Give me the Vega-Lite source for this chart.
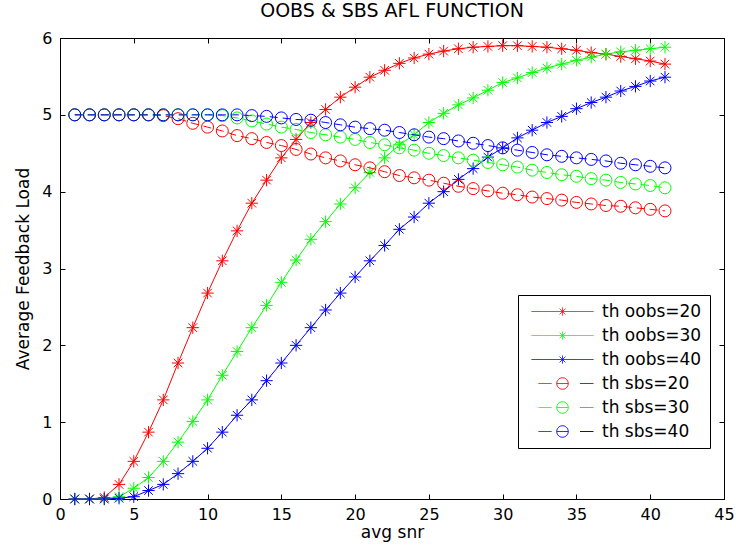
{
"$schema":"https://vega.github.io/schema/vega-lite/v6.json",
"width":664,"height":461,
"autosize":{"type":"none"},
"padding":{"left":60,"top":38,"right":12,"bottom":50},
"background":"white",
"title":{"text":"OOBS & SBS AFL FUNCTION","fontSize":19,"fontWeight":"normal","font":"DejaVu Sans","color":"black","offset":9,"anchor":"middle"},
"config":{
"view":{"stroke":"black","strokeWidth":1},
"axis":{"domainColor":"black","tickColor":"black","labelColor":"black","titleColor":"black","labelFont":"DejaVu Sans","titleFont":"DejaVu Sans","labelFontSize":16,"titleFontSize":17,"titleFontWeight":"normal","grid":false,"tickSize":-5,"domainWidth":1,"tickWidth":1,"labelFlush":false,"labelOverlap":false},
"legend":{"orient":"none","legendX":458,"legendY":257,"title":null,"strokeColor":"black","fillColor":"white","padding":8,"rowPadding":6,"labelFont":"DejaVu Sans","labelFontSize":17,"labelColor":"black","labelOffset":57,"symbolSize":100,"symbolStrokeWidth":1,"symbolOffset":2}
},
"data":{"values":[
{"x":1,"s":"th oobs=20","y":0},{"x":2,"s":"th oobs=20","y":0},{"x":3,"s":"th oobs=20","y":0.02},{"x":4,"s":"th oobs=20","y":0.19},{"x":5,"s":"th oobs=20","y":0.49},{"x":6,"s":"th oobs=20","y":0.87},{"x":7,"s":"th oobs=20","y":1.29},{"x":8,"s":"th oobs=20","y":1.77},{"x":9,"s":"th oobs=20","y":2.23},{"x":10,"s":"th oobs=20","y":2.68},{"x":11,"s":"th oobs=20","y":3.1},{"x":12,"s":"th oobs=20","y":3.49},{"x":13,"s":"th oobs=20","y":3.85},{"x":14,"s":"th oobs=20","y":4.15},{"x":15,"s":"th oobs=20","y":4.44},{"x":16,"s":"th oobs=20","y":4.68},{"x":17,"s":"th oobs=20","y":4.9},{"x":18,"s":"th oobs=20","y":5.07},{"x":19,"s":"th oobs=20","y":5.23},{"x":20,"s":"th oobs=20","y":5.36},{"x":21,"s":"th oobs=20","y":5.49},{"x":22,"s":"th oobs=20","y":5.58},{"x":23,"s":"th oobs=20","y":5.67},{"x":24,"s":"th oobs=20","y":5.74},{"x":25,"s":"th oobs=20","y":5.79},{"x":26,"s":"th oobs=20","y":5.83},{"x":27,"s":"th oobs=20","y":5.86},{"x":28,"s":"th oobs=20","y":5.88},{"x":29,"s":"th oobs=20","y":5.89},{"x":30,"s":"th oobs=20","y":5.9},{"x":31,"s":"th oobs=20","y":5.9},{"x":32,"s":"th oobs=20","y":5.89},{"x":33,"s":"th oobs=20","y":5.88},{"x":34,"s":"th oobs=20","y":5.86},{"x":35,"s":"th oobs=20","y":5.84},{"x":36,"s":"th oobs=20","y":5.81},{"x":37,"s":"th oobs=20","y":5.79},{"x":38,"s":"th oobs=20","y":5.76},{"x":39,"s":"th oobs=20","y":5.73},{"x":40,"s":"th oobs=20","y":5.7},{"x":41,"s":"th oobs=20","y":5.66},
{"x":1,"s":"th oobs=30","y":0},{"x":2,"s":"th oobs=30","y":0},{"x":3,"s":"th oobs=30","y":0},{"x":4,"s":"th oobs=30","y":0.03},{"x":5,"s":"th oobs=30","y":0.14},{"x":6,"s":"th oobs=30","y":0.28},{"x":7,"s":"th oobs=30","y":0.49},{"x":8,"s":"th oobs=30","y":0.74},{"x":9,"s":"th oobs=30","y":1.01},{"x":10,"s":"th oobs=30","y":1.29},{"x":11,"s":"th oobs=30","y":1.61},{"x":12,"s":"th oobs=30","y":1.92},{"x":13,"s":"th oobs=30","y":2.23},{"x":14,"s":"th oobs=30","y":2.52},{"x":15,"s":"th oobs=30","y":2.82},{"x":16,"s":"th oobs=30","y":3.11},{"x":17,"s":"th oobs=30","y":3.38},{"x":18,"s":"th oobs=30","y":3.61},{"x":19,"s":"th oobs=30","y":3.84},{"x":20,"s":"th oobs=30","y":4.05},{"x":21,"s":"th oobs=30","y":4.25},{"x":22,"s":"th oobs=30","y":4.44},{"x":23,"s":"th oobs=30","y":4.61},{"x":24,"s":"th oobs=30","y":4.74},{"x":25,"s":"th oobs=30","y":4.9},{"x":26,"s":"th oobs=30","y":5.02},{"x":27,"s":"th oobs=30","y":5.13},{"x":28,"s":"th oobs=30","y":5.22},{"x":29,"s":"th oobs=30","y":5.32},{"x":30,"s":"th oobs=30","y":5.42},{"x":31,"s":"th oobs=30","y":5.48},{"x":32,"s":"th oobs=30","y":5.55},{"x":33,"s":"th oobs=30","y":5.61},{"x":34,"s":"th oobs=30","y":5.66},{"x":35,"s":"th oobs=30","y":5.71},{"x":36,"s":"th oobs=30","y":5.75},{"x":37,"s":"th oobs=30","y":5.79},{"x":38,"s":"th oobs=30","y":5.82},{"x":39,"s":"th oobs=30","y":5.84},{"x":40,"s":"th oobs=30","y":5.86},{"x":41,"s":"th oobs=30","y":5.88},
{"x":1,"s":"th oobs=40","y":0},{"x":2,"s":"th oobs=40","y":0},{"x":3,"s":"th oobs=40","y":0},{"x":4,"s":"th oobs=40","y":0.01},{"x":5,"s":"th oobs=40","y":0.03},{"x":6,"s":"th oobs=40","y":0.11},{"x":7,"s":"th oobs=40","y":0.19},{"x":8,"s":"th oobs=40","y":0.33},{"x":9,"s":"th oobs=40","y":0.49},{"x":10,"s":"th oobs=40","y":0.66},{"x":11,"s":"th oobs=40","y":0.87},{"x":12,"s":"th oobs=40","y":1.09},{"x":13,"s":"th oobs=40","y":1.29},{"x":14,"s":"th oobs=40","y":1.54},{"x":15,"s":"th oobs=40","y":1.77},{"x":16,"s":"th oobs=40","y":2.0},{"x":17,"s":"th oobs=40","y":2.23},{"x":18,"s":"th oobs=40","y":2.46},{"x":19,"s":"th oobs=40","y":2.68},{"x":20,"s":"th oobs=40","y":2.89},{"x":21,"s":"th oobs=40","y":3.1},{"x":22,"s":"th oobs=40","y":3.3},{"x":23,"s":"th oobs=40","y":3.51},{"x":24,"s":"th oobs=40","y":3.67},{"x":25,"s":"th oobs=40","y":3.85},{"x":26,"s":"th oobs=40","y":4.0},{"x":27,"s":"th oobs=40","y":4.16},{"x":28,"s":"th oobs=40","y":4.3},{"x":29,"s":"th oobs=40","y":4.45},{"x":30,"s":"th oobs=40","y":4.57},{"x":31,"s":"th oobs=40","y":4.7},{"x":32,"s":"th oobs=40","y":4.8},{"x":33,"s":"th oobs=40","y":4.9},{"x":34,"s":"th oobs=40","y":4.98},{"x":35,"s":"th oobs=40","y":5.08},{"x":36,"s":"th oobs=40","y":5.16},{"x":37,"s":"th oobs=40","y":5.23},{"x":38,"s":"th oobs=40","y":5.31},{"x":39,"s":"th oobs=40","y":5.37},{"x":40,"s":"th oobs=40","y":5.44},{"x":41,"s":"th oobs=40","y":5.49},
{"x":1,"s":"th sbs=20","y":5.0},{"x":2,"s":"th sbs=20","y":5.0},{"x":3,"s":"th sbs=20","y":5.0},{"x":4,"s":"th sbs=20","y":5.0},{"x":5,"s":"th sbs=20","y":5.0},{"x":6,"s":"th sbs=20","y":5.0},{"x":7,"s":"th sbs=20","y":4.99},{"x":8,"s":"th sbs=20","y":4.95},{"x":9,"s":"th sbs=20","y":4.89},{"x":10,"s":"th sbs=20","y":4.84},{"x":11,"s":"th sbs=20","y":4.79},{"x":12,"s":"th sbs=20","y":4.73},{"x":13,"s":"th sbs=20","y":4.69},{"x":14,"s":"th sbs=20","y":4.64},{"x":15,"s":"th sbs=20","y":4.6},{"x":16,"s":"th sbs=20","y":4.55},{"x":17,"s":"th sbs=20","y":4.49},{"x":18,"s":"th sbs=20","y":4.44},{"x":19,"s":"th sbs=20","y":4.4},{"x":20,"s":"th sbs=20","y":4.35},{"x":21,"s":"th sbs=20","y":4.31},{"x":22,"s":"th sbs=20","y":4.26},{"x":23,"s":"th sbs=20","y":4.21},{"x":24,"s":"th sbs=20","y":4.18},{"x":25,"s":"th sbs=20","y":4.15},{"x":26,"s":"th sbs=20","y":4.11},{"x":27,"s":"th sbs=20","y":4.07},{"x":28,"s":"th sbs=20","y":4.04},{"x":29,"s":"th sbs=20","y":4.01},{"x":30,"s":"th sbs=20","y":3.98},{"x":31,"s":"th sbs=20","y":3.96},{"x":32,"s":"th sbs=20","y":3.93},{"x":33,"s":"th sbs=20","y":3.91},{"x":34,"s":"th sbs=20","y":3.89},{"x":35,"s":"th sbs=20","y":3.86},{"x":36,"s":"th sbs=20","y":3.84},{"x":37,"s":"th sbs=20","y":3.82},{"x":38,"s":"th sbs=20","y":3.81},{"x":39,"s":"th sbs=20","y":3.79},{"x":40,"s":"th sbs=20","y":3.77},{"x":41,"s":"th sbs=20","y":3.75},
{"x":1,"s":"th sbs=30","y":5.0},{"x":2,"s":"th sbs=30","y":5.0},{"x":3,"s":"th sbs=30","y":5.0},{"x":4,"s":"th sbs=30","y":5.0},{"x":5,"s":"th sbs=30","y":5.0},{"x":6,"s":"th sbs=30","y":5.0},{"x":7,"s":"th sbs=30","y":5.0},{"x":8,"s":"th sbs=30","y":5.0},{"x":9,"s":"th sbs=30","y":5.0},{"x":10,"s":"th sbs=30","y":5.0},{"x":11,"s":"th sbs=30","y":4.99},{"x":12,"s":"th sbs=30","y":4.96},{"x":13,"s":"th sbs=30","y":4.92},{"x":14,"s":"th sbs=30","y":4.88},{"x":15,"s":"th sbs=30","y":4.84},{"x":16,"s":"th sbs=30","y":4.81},{"x":17,"s":"th sbs=30","y":4.77},{"x":18,"s":"th sbs=30","y":4.74},{"x":19,"s":"th sbs=30","y":4.71},{"x":20,"s":"th sbs=30","y":4.68},{"x":21,"s":"th sbs=30","y":4.64},{"x":22,"s":"th sbs=30","y":4.61},{"x":23,"s":"th sbs=30","y":4.57},{"x":24,"s":"th sbs=30","y":4.54},{"x":25,"s":"th sbs=30","y":4.5},{"x":26,"s":"th sbs=30","y":4.47},{"x":27,"s":"th sbs=30","y":4.44},{"x":28,"s":"th sbs=30","y":4.41},{"x":29,"s":"th sbs=30","y":4.38},{"x":30,"s":"th sbs=30","y":4.35},{"x":31,"s":"th sbs=30","y":4.32},{"x":32,"s":"th sbs=30","y":4.28},{"x":33,"s":"th sbs=30","y":4.25},{"x":34,"s":"th sbs=30","y":4.22},{"x":35,"s":"th sbs=30","y":4.2},{"x":36,"s":"th sbs=30","y":4.17},{"x":37,"s":"th sbs=30","y":4.15},{"x":38,"s":"th sbs=30","y":4.12},{"x":39,"s":"th sbs=30","y":4.1},{"x":40,"s":"th sbs=30","y":4.08},{"x":41,"s":"th sbs=30","y":4.05},
{"x":1,"s":"th sbs=40","y":5.0},{"x":2,"s":"th sbs=40","y":5.0},{"x":3,"s":"th sbs=40","y":5.0},{"x":4,"s":"th sbs=40","y":5.0},{"x":5,"s":"th sbs=40","y":5.0},{"x":6,"s":"th sbs=40","y":5.0},{"x":7,"s":"th sbs=40","y":5.0},{"x":8,"s":"th sbs=40","y":5.0},{"x":9,"s":"th sbs=40","y":5.0},{"x":10,"s":"th sbs=40","y":5.0},{"x":11,"s":"th sbs=40","y":5.0},{"x":12,"s":"th sbs=40","y":5.0},{"x":13,"s":"th sbs=40","y":4.99},{"x":14,"s":"th sbs=40","y":4.98},{"x":15,"s":"th sbs=40","y":4.96},{"x":16,"s":"th sbs=40","y":4.94},{"x":17,"s":"th sbs=40","y":4.93},{"x":18,"s":"th sbs=40","y":4.9},{"x":19,"s":"th sbs=40","y":4.87},{"x":20,"s":"th sbs=40","y":4.84},{"x":21,"s":"th sbs=40","y":4.82},{"x":22,"s":"th sbs=40","y":4.8},{"x":23,"s":"th sbs=40","y":4.77},{"x":24,"s":"th sbs=40","y":4.74},{"x":25,"s":"th sbs=40","y":4.71},{"x":26,"s":"th sbs=40","y":4.69},{"x":27,"s":"th sbs=40","y":4.66},{"x":28,"s":"th sbs=40","y":4.63},{"x":29,"s":"th sbs=40","y":4.6},{"x":30,"s":"th sbs=40","y":4.57},{"x":31,"s":"th sbs=40","y":4.54},{"x":32,"s":"th sbs=40","y":4.51},{"x":33,"s":"th sbs=40","y":4.48},{"x":34,"s":"th sbs=40","y":4.46},{"x":35,"s":"th sbs=40","y":4.44},{"x":36,"s":"th sbs=40","y":4.42},{"x":37,"s":"th sbs=40","y":4.4},{"x":38,"s":"th sbs=40","y":4.37},{"x":39,"s":"th sbs=40","y":4.35},{"x":40,"s":"th sbs=40","y":4.33},{"x":41,"s":"th sbs=40","y":4.31}
]},
"resolve":{"axis":{"x":"independent","y":"independent"}},
"layer":[
{"transform":[{"filter":"indexof(datum.s,'oobs')>=0"}],
 "mark":{"type":"line","strokeWidth":1},
 "encoding":{
  "x":{"field":"x","type":"quantitative","scale":{"domain":[0,45],"nice":false,"zero":false},"axis":{"orient":"bottom","values":[0,5,10,15,20,25,30,35,40,45],"labelPadding":12,"title":"avg snr","titlePadding":2}},
  "y":{"field":"y","type":"quantitative","scale":{"domain":[0,6],"nice":false},"axis":{"orient":"left","values":[0,1,2,3,4,5,6],"labelPadding":13,"title":"Average Feedback Load","titlePadding":9}},
  "color":{"field":"s","type":"nominal","scale":{"domain":["th oobs=20","th oobs=30","th oobs=40","th sbs=20","th sbs=30","th sbs=40"],"range":["#ff0000","#00ff00","#0000ff","#ff0000","#00ff00","#0000ff"]},
   "legend":{"encode":{"symbols":{"update":{"shape":{"signal":"indexof(datum.value,'oobs')>=0 ? 'M-1,0H11.4M5.2,-0.8V0.8M4.63,-0.57L5.77,0.57M4.63,0.57L5.77,-0.57' : 'M0.4,0H3.0M4.05,0H6.35M8.7,0H11.4M6.35,0A1.15,1.15,0,1,1,4.05,0A1.15,1.15,0,1,1,6.35,0'"},"fill":{"value":"transparent"},"strokeDash":{"value":[1,0]},"opacity":{"value":1},"strokeWidth":{"value":1}}}}}}
 }},
{"transform":[{"filter":"indexof(datum.s,'oobs')>=0"}],
 "mark":{"type":"point","filled":false,"strokeWidth":1,"opacity":1,"size":150,"shape":"M0,-1V1M-1,0H1M-0.7,-0.7L0.7,0.7M-0.7,0.7L0.7,-0.7"},
 "encoding":{
  "x":{"field":"x","type":"quantitative","scale":{"domain":[0,45],"nice":false,"zero":false},"axis":{"orient":"top","values":[0,5,10,15,20,25,30,35,40,45],"labels":false,"title":null}},
  "y":{"field":"y","type":"quantitative","scale":{"domain":[0,6],"nice":false},"axis":{"orient":"right","values":[0,1,2,3,4,5,6],"labels":false,"title":null}},
  "color":{"field":"s","type":"nominal"}
 }},
{"transform":[{"filter":"indexof(datum.s,'sbs')>=0"}],
 "mark":{"type":"line","strokeWidth":1,"strokeDash":[8,5]},
 "encoding":{
  "x":{"field":"x","type":"quantitative","axis":null},
  "y":{"field":"y","type":"quantitative","axis":null},
  "color":{"field":"s","type":"nominal"}
 }},
{"transform":[{"filter":"indexof(datum.s,'sbs')>=0"}],
 "mark":{"type":"point","filled":false,"strokeWidth":1,"opacity":1,"size":144,"shape":"circle"},
 "encoding":{
  "x":{"field":"x","type":"quantitative","axis":null},
  "y":{"field":"y","type":"quantitative","axis":null},
  "color":{"field":"s","type":"nominal"}
 }}
]
}
